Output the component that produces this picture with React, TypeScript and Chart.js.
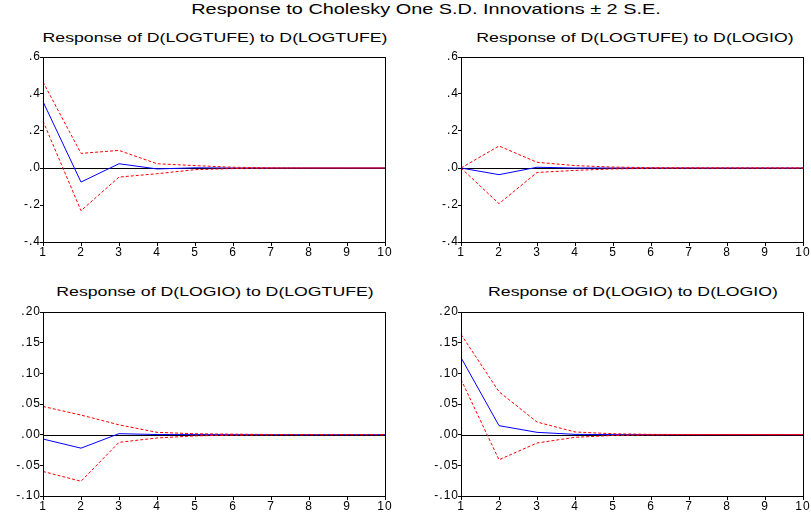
import React, { useEffect, useRef } from 'react';
import { Chart, registerables } from 'chart.js';

Chart.register(...registerables);

// ---------- data ----------
const periods = ['1', '2', '3', '4', '5', '6', '7', '8', '9', '10'];

const tufeTufeResp = [0.359, -0.076, 0.023, -0.005, 0.001, 0.0, 0.0, 0.0, 0.0, 0.0];
const tufeTufeUpper = [0.465, 0.079, 0.095, 0.023, 0.013, 0.004, 0.001, 0.0, 0.0, 0.0];
const tufeTufeLower = [0.254, -0.231, -0.049, -0.031, -0.009, -0.003, -0.001, 0.0, 0.0, 0.0];

const tufeIoResp = [0.0, -0.036, 0.004, 0.0, 0.0, 0.0, 0.0, 0.0, 0.0, 0.0];
const tufeIoUpper = [0.0, 0.119, 0.031, 0.013, 0.005, 0.002, 0.001, 0.0, 0.0, 0.0];
const tufeIoLower = [0.0, -0.193, -0.024, -0.013, -0.005, -0.002, -0.001, 0.0, 0.0, 0.0];

const ioTufeResp = [-0.0071, -0.022, 0.0016, 0.0002, 0.0001, 0.0, 0.0, 0.0, 0.0, 0.0];
const ioTufeUpper = [0.046, 0.032, 0.016, 0.0038, 0.0015, 0.0008, 0.0003, 0.0, 0.0, 0.0];
const ioTufeLower = [-0.06, -0.076, -0.0125, -0.0054, -0.002, -0.0008, -0.0003, 0.0, 0.0, 0.0];

const ioIoResp = [0.1257, 0.0147, 0.0038, 0.0005, 0.0001, 0.0, 0.0, 0.0, 0.0, 0.0];
const ioIoUpper = [0.1636, 0.07, 0.0206, 0.0044, 0.0015, 0.0005, 0.0002, 0.0, 0.0, 0.0];
const ioIoLower = [0.09, -0.041, -0.0136, -0.0043, -0.0013, -0.0004, -0.0001, 0.0, 0.0, 0.0];

const yTickValuesTop = [-0.4, -0.2, 0.0, 0.2, 0.4, 0.6];
const yTickLabelsTop = ['-.4', '-.2', '.0', '.2', '.4', '.6'];
const yTickValuesBottom = [-0.1, -0.05, 0.0, 0.05, 0.1, 0.15, 0.2];
const yTickLabelsBottom = ['-.10', '-.05', '.00', '.05', '.10', '.15', '.20'];

const mainTitle = 'Response to Cholesky One S.D. Innovations \u00b1 2 S.E.';
const panelTitles = [
  'Response of D(LOGTUFE) to D(LOGTUFE)',
  'Response of D(LOGTUFE) to D(LOGIO)',
  'Response of D(LOGIO) to D(LOGTUFE)',
  'Response of D(LOGIO) to D(LOGIO)',
];

// ---------- plugins ----------
const spacingPlugin = {
  id: 'tickSpacing',
  beforeDraw(chart: any) {
    chart.ctx.letterSpacing = '1px';
  },
};

const zeroLinePlugin = {
  id: 'zeroLine',
  beforeDatasetsDraw(chart: any) {
    const { ctx, chartArea, scales } = chart;
    const y = Math.round(scales.y.getPixelForValue(0)) + 0.5;
    ctx.save();
    ctx.strokeStyle = '#000000';
    ctx.lineWidth = 1;
    ctx.beginPath();
    ctx.moveTo(chartArea.left, y);
    ctx.lineTo(chartArea.right, y);
    ctx.stroke();
    ctx.restore();
  },
};

const framePlugin = {
  id: 'frame',
  afterDatasetsDraw(chart: any) {
    const { ctx, chartArea } = chart;
    ctx.save();
    ctx.strokeStyle = '#000000';
    ctx.lineWidth = 1;
    ctx.strokeRect(
      chartArea.left + 0.5,
      chartArea.top + 0.5,
      chartArea.right - chartArea.left,
      chartArea.bottom - chartArea.top
    );
    ctx.restore();
  },
};

type PanelProps = {
  resp: number[];
  upper: number[];
  lower: number[];
  yValues: number[];
  yLabels: string[];
  left: number;
  top: number;
  width: number;
  height: number;
  padRight: number;
};

function Panel(p: PanelProps) {
  const ref = useRef<HTMLCanvasElement | null>(null);
  useEffect(() => {
    if (!ref.current) return;
    const tickFont = { family: '"Liberation Sans", Arial, sans-serif', size: 12 };
    const chart = new Chart(ref.current, {
      type: 'line',
      data: {
        labels: periods,
        datasets: [
          { data: p.upper, borderColor: '#ff0000', borderWidth: 1, borderDash: [3, 2], pointRadius: 0, tension: 0, fill: false },
          { data: p.lower, borderColor: '#ff0000', borderWidth: 1, borderDash: [3, 2], pointRadius: 0, tension: 0, fill: false },
          { data: p.resp, borderColor: '#0000ff', borderWidth: 1, pointRadius: 0, tension: 0, fill: false },
        ],
      },
      options: {
        animation: false,
        responsive: false,
        devicePixelRatio: 1,
        layout: { padding: { top: 10, right: p.padRight, bottom: 0, left: 0 } },
        plugins: {
          legend: { display: false },
          tooltip: { enabled: false },
          title: { display: false },
        },
        scales: {
          x: {
            type: 'category',
            offset: false,
            grid: { drawOnChartArea: false, drawTicks: true, tickLength: 4, color: '#000000' },
            border: { display: false },
            ticks: { color: '#000000', font: tickFont, padding: -1, maxRotation: 0, autoSkip: false },
            afterFit: (s: any) => {
              s.height = 18;
            },
          },
          y: {
            min: p.yValues[0],
            max: p.yValues[p.yValues.length - 1],
            afterBuildTicks: (s: any) => {
              s.ticks = p.yValues.map((v) => ({ value: v }));
            },
            grid: { drawOnChartArea: false, drawTicks: true, tickLength: 3, color: '#000000' },
            border: { display: false },
            ticks: {
              color: '#000000',
              font: tickFont,
              padding: -1,
              callback: (_v: any, i: number) => p.yLabels[i],
            },
            afterFit: (s: any) => {
              s.width = 43;
            },
          },
        },
      } as any,
      plugins: [spacingPlugin, zeroLinePlugin, framePlugin],
    });
    return () => chart.destroy();
  }, []);
  return (
    <canvas
      ref={ref}
      width={p.width}
      height={p.height}
      style={{ position: 'absolute', left: p.left, top: p.top, width: p.width, height: p.height }}
    />
  );
}

function Title(props: { text: string; cx: number; baseline: number; size: number; scale: number }) {
  const top = props.baseline - props.size * 0.905;
  return (
    <div
      style={{
        position: 'absolute',
        left: props.cx,
        top,
        fontFamily: '"Liberation Sans", Arial, sans-serif',
        fontSize: props.size,
        lineHeight: 'normal',
        whiteSpace: 'nowrap',
        color: '#000',
        transform: `translateX(-50%) scaleX(${props.scale})`,
      }}
    >
      {props.text}
    </div>
  );
}

export default function App() {
  return (
    <div style={{ position: 'absolute', left: 0, top: 0, width: 811, height: 517, background: '#fff', overflow: 'hidden' }}>
      <Title text={mainTitle} cx={426} baseline={14} size={14} scale={1.42} />
      <Title text={panelTitles[0]} cx={215} baseline={42} size={13} scale={1.36} />
      <Title text={panelTitles[1]} cx={635} baseline={42} size={13} scale={1.36} />
      <Title text={panelTitles[2]} cx={215} baseline={296} size={13} scale={1.36} />
      <Title text={panelTitles[3]} cx={633} baseline={296} size={13} scale={1.36} />
      <Panel resp={tufeTufeResp} upper={tufeTufeUpper} lower={tufeTufeLower} yValues={yTickValuesTop} yLabels={yTickLabelsTop} left={0} top={47} width={400} height={213} padRight={15} />
      <Panel resp={tufeIoResp} upper={tufeIoUpper} lower={tufeIoLower} yValues={yTickValuesTop} yLabels={yTickLabelsTop} left={418} top={47} width={393} height={213} padRight={8} />
      <Panel resp={ioTufeResp} upper={ioTufeUpper} lower={ioTufeLower} yValues={yTickValuesBottom} yLabels={yTickLabelsBottom} left={0} top={302} width={400} height={212} padRight={15} />
      <Panel resp={ioIoResp} upper={ioIoUpper} lower={ioIoLower} yValues={yTickValuesBottom} yLabels={yTickLabelsBottom} left={418} top={302} width={393} height={212} padRight={8} />
    </div>
  );
}
